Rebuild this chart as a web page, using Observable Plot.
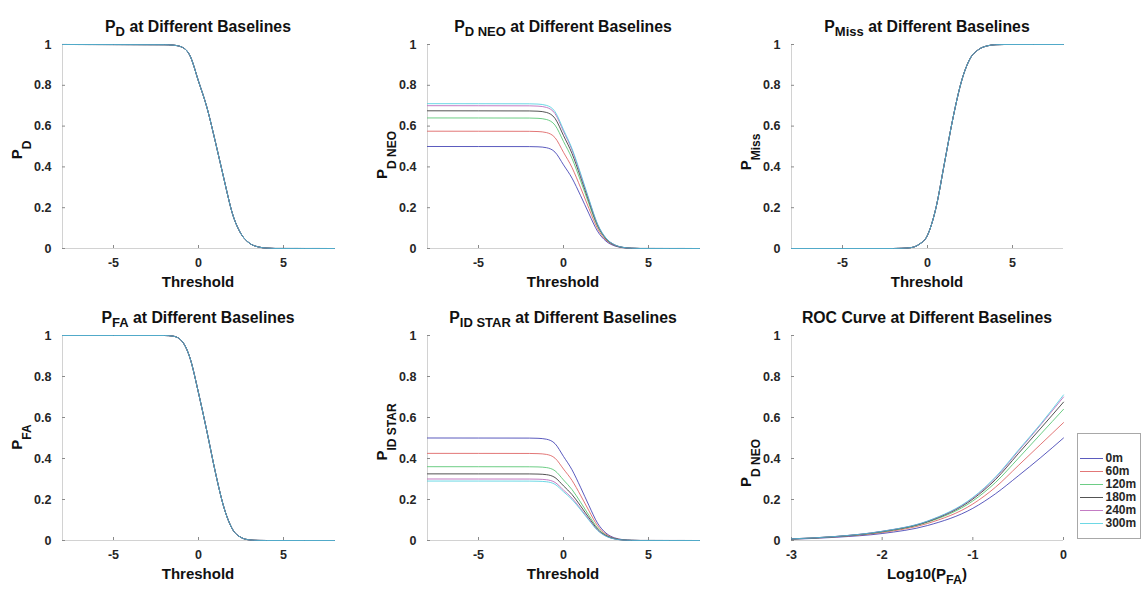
<!DOCTYPE html>
<html><head><meta charset="utf-8">
<script src="https://cdn.jsdelivr.net/npm/d3@7"></script>
<script src="https://cdn.jsdelivr.net/npm/@observablehq/plot@0.6"></script>
<style>
html,body{margin:0;padding:0;background:#fff;}
#fig{position:relative;width:1143px;height:593px;overflow:hidden;}
#fig svg{position:absolute;}
</style></head><body><div id="fig"></div>
<script>
// ---------------- data ----------------
const baselines = ["0m","60m","120m","180m","240m","300m"];
const lineColors = ["#2424a8","#d84a4a","#3cbc5c","#1a1a1a","#b050b0","#3ccbdc"];
const yTicks = [0, 0.2, 0.4, 0.6, 0.8, 1];
const thrTicks = [-5, 0, 5];
const rocTicks = [-3, -2, -1, 0];

const threshold = [-8, -2, -1.5, -1, -0.5, 0, 0.5, 1, 1.5, 2, 2.5, 3, 3.5, 4, 4.5, 8];

const pD    = [1, 0.999, 0.997, 0.988, 0.945, 0.82, 0.69, 0.52, 0.34, 0.17, 0.072, 0.026, 0.008, 0.002, 0.0002, 0];
const pMiss = [0, 0, 0.001, 0.004, 0.02, 0.065, 0.2, 0.42, 0.64, 0.82, 0.93, 0.975, 0.993, 0.999, 1, 1];
const pFA   = [1, 1, 0.997, 0.975, 0.89, 0.72, 0.53, 0.33, 0.16, 0.055, 0.015, 0.003, 0.0005, 0, 0, 0];

const pDNEO_0m   = [0.5, 0.4995, 0.4985, 0.494, 0.4725, 0.41, 0.345, 0.26, 0.17, 0.085, 0.036, 0.013, 0.004, 0.001, 0.0001, 0];
const pDNEO_60m  = [0.575, 0.5744, 0.5733, 0.5681, 0.5434, 0.4715, 0.3968, 0.299, 0.1955, 0.0978, 0.0414, 0.015, 0.0046, 0.0012, 0.0001, 0];
const pDNEO_120m = [0.64, 0.6394, 0.6381, 0.6323, 0.6048, 0.5248, 0.4416, 0.3328, 0.2176, 0.1088, 0.0461, 0.0166, 0.0051, 0.0013, 0.0001, 0];
const pDNEO_180m = [0.675, 0.6743, 0.673, 0.6669, 0.6379, 0.5535, 0.4658, 0.351, 0.2295, 0.1148, 0.0486, 0.0176, 0.0054, 0.0014, 0.0001, 0];
const pDNEO_240m = [0.70, 0.6993, 0.6979, 0.6916, 0.6615, 0.574, 0.483, 0.364, 0.238, 0.119, 0.0504, 0.0182, 0.0056, 0.0014, 0.0001, 0];
const pDNEO_300m = [0.71, 0.7093, 0.7079, 0.7015, 0.671, 0.5822, 0.4899, 0.3692, 0.2414, 0.1207, 0.0511, 0.0185, 0.0057, 0.0014, 0.0001, 0];

const pIDSTAR_0m   = [0.5, 0.4995, 0.4985, 0.494, 0.4725, 0.41, 0.345, 0.26, 0.17, 0.085, 0.036, 0.013, 0.004, 0.001, 0.0001, 0];
const pIDSTAR_60m  = [0.425, 0.4246, 0.4237, 0.4199, 0.4016, 0.3485, 0.2933, 0.221, 0.1445, 0.0723, 0.0306, 0.0111, 0.0034, 0.0009, 0.0001, 0];
const pIDSTAR_120m = [0.36, 0.3596, 0.3589, 0.3557, 0.3402, 0.2952, 0.2484, 0.1872, 0.1224, 0.0612, 0.0259, 0.0094, 0.0029, 0.0007, 0.0001, 0];
const pIDSTAR_180m = [0.325, 0.3247, 0.324, 0.3211, 0.3071, 0.2665, 0.2243, 0.169, 0.1105, 0.0553, 0.0234, 0.0085, 0.0026, 0.0007, 0.0001, 0];
const pIDSTAR_240m = [0.30, 0.2997, 0.2991, 0.2964, 0.2835, 0.246, 0.207, 0.156, 0.102, 0.051, 0.0216, 0.0078, 0.0024, 0.0006, 0.0001, 0];
const pIDSTAR_300m = [0.29, 0.2897, 0.2891, 0.2865, 0.2741, 0.2378, 0.2001, 0.1508, 0.0986, 0.0493, 0.0209, 0.0075, 0.0023, 0.0006, 0.0001, 0];

const logPFA = [-3, -2.5, -2, -1.5, -1, -0.75, -0.5, -0.25, 0];
const roc_0m   = [0.006, 0.016, 0.034, 0.073, 0.157, 0.228, 0.315, 0.405, 0.50];
const roc_60m  = [0.007, 0.018, 0.039, 0.083, 0.178, 0.26, 0.365, 0.47, 0.575];
const roc_120m = [0.007, 0.019, 0.042, 0.089, 0.193, 0.283, 0.40, 0.52, 0.64];
const roc_180m = [0.008, 0.02, 0.044, 0.092, 0.202, 0.297, 0.423, 0.548, 0.675];
const roc_240m = [0.008, 0.02, 0.045, 0.094, 0.207, 0.305, 0.435, 0.565, 0.70];
const roc_300m = [0.008, 0.02, 0.045, 0.095, 0.21, 0.31, 0.44, 0.57, 0.71];

// ---------------- helpers ----------------
const FONT = '"Liberation Sans", Arial, Helvetica, sans-serif';
const TXT = "#262626";
const fig = document.getElementById("fig");

function tidy(xs, seriesList) {
  const rows = [];
  seriesList.forEach((ys, i) => ys.forEach((y, j) => rows.push({baseline: baselines[i], x: xs[j], y})));
  return rows;
}
function richText(sel, parts, size, subSize, shift) {
  let down = 0;
  parts.forEach(p => {
    const t = sel.append("tspan").text(p[0]);
    if (p[1] === "sub") { t.attr("font-size", subSize).attr("dy", shift - down); down = shift; }
    else { t.attr("font-size", size).attr("dy", -down); down = 0; }
  });
}

function panel(o) {
  const fw = 272, fh = o.fh, mL = 62, mT = 44, mR = 14, mB = 56;
  const [x0, x1] = o.xDomain;
  const ux = (x1 - x0) * 3 / fw, uy = 3 / fh;
  const fmt = d => String(d);
  const svg = Plot.plot({
    width: fw + mL + mR, height: fh + mT + mB,
    marginLeft: mL, marginTop: mT, marginRight: mR, marginBottom: mB,
    style: {background: "none", fontFamily: FONT, fontSize: "12.5px", fontWeight: "bold", color: TXT, overflow: "visible"},
    x: {domain: o.xDomain},
    y: {domain: [0, 1]},
    color: {domain: baselines, range: lineColors},
    marks: [
      Plot.ruleY([0], {stroke: "#d2d2d2"}),
      Plot.ruleX([x0], {stroke: "#d2d2d2"}),
      Plot.ruleX(o.xTicks, {x: d => d, y1: 0, y2: uy, stroke: "#8a8a8a"}),
      Plot.ruleY(yTicks, {y: d => d, x1: x0, x2: x0 + ux, stroke: "#8a8a8a"}),
      Plot.axisX({ticks: o.xTicks, tickSize: 0, tickPadding: 10, label: null, tickFormat: fmt, fill: TXT}),
      Plot.axisY({ticks: yTicks, tickSize: 0, tickPadding: 11, label: null, tickFormat: fmt, fill: TXT}),
      Plot.line(o.rows, {x: "x", y: "y", z: "baseline", stroke: "baseline", strokeWidth: 0.75, curve: "monotone-x"})
    ]
  });
  svg.style.left = (o.left - mL) + "px";
  svg.style.top = (o.top - mT) + "px";
  const s = d3.select(svg);
  const common = t => t.attr("font-family", FONT).attr("font-weight", "bold").attr("fill", "#111");
  const tt = s.append("text").attr("x", mL + fw / 2).attr("y", mT - 12).attr("text-anchor", "middle");
  common(tt); richText(tt, o.title, "15.8px", "13px", 3.5);
  const xl = s.append("text").attr("x", mL + fw / 2).attr("y", mT + fh + 39).attr("text-anchor", "middle");
  common(xl); richText(xl, o.xlab, "15px", "12.5px", 5);
  const yl = s.append("text").attr("text-anchor", "middle")
    .attr("transform", `translate(${mL - 40},${mT + o.ylabC}) rotate(-90)`);
  common(yl); richText(yl, o.ylab, "15px", "12px", 9);
  fig.appendChild(svg);
}

const colL = [62, 427, 791];
const rowT = [44, 335];
const same = arr => baselines.map(() => arr);

panel({left: colL[0], top: rowT[0], fh: 204, xDomain: [-8, 8], xTicks: thrTicks,
  rows: tidy(threshold, same(pD)), title: [["P"], ["D", "sub"], [" at Different Baselines"]],
  xlab: [["Threshold"]], ylab: [["P"], ["D", "sub"]], ylabC: 106});
panel({left: colL[1], top: rowT[0], fh: 204, xDomain: [-8, 8], xTicks: thrTicks,
  rows: tidy(threshold, [pDNEO_0m, pDNEO_60m, pDNEO_120m, pDNEO_180m, pDNEO_240m, pDNEO_300m]),
  title: [["P"], ["D NEO", "sub"], [" at Different Baselines"]],
  xlab: [["Threshold"]], ylab: [["P"], ["D NEO", "sub"]], ylabC: 111});
panel({left: colL[2], top: rowT[0], fh: 204, xDomain: [-8, 8], xTicks: thrTicks,
  rows: tidy(threshold, same(pMiss)), title: [["P"], ["Miss", "sub"], [" at Different Baselines"]],
  xlab: [["Threshold"]], ylab: [["P"], ["Miss", "sub"]], ylabC: 108});
panel({left: colL[0], top: rowT[1], fh: 205, xDomain: [-8, 8], xTicks: thrTicks,
  rows: tidy(threshold, same(pFA)), title: [["P"], ["FA", "sub"], [" at Different Baselines"]],
  xlab: [["Threshold"]], ylab: [["P"], ["FA", "sub"]], ylabC: 102});
panel({left: colL[1], top: rowT[1], fh: 205, xDomain: [-8, 8], xTicks: thrTicks,
  rows: tidy(threshold, [pIDSTAR_0m, pIDSTAR_60m, pIDSTAR_120m, pIDSTAR_180m, pIDSTAR_240m, pIDSTAR_300m]),
  title: [["P"], ["ID STAR", "sub"], [" at Different Baselines"]],
  xlab: [["Threshold"]], ylab: [["P"], ["ID STAR", "sub"]], ylabC: 97});
panel({left: colL[2], top: rowT[1], fh: 205, xDomain: [-3, 0], xTicks: rocTicks,
  rows: tidy(logPFA, [roc_0m, roc_60m, roc_120m, roc_180m, roc_240m, roc_300m]),
  title: [["ROC Curve at Different Baselines"]],
  xlab: [["Log10(P"], ["FA", "sub"], [")"]], ylab: [["P"], ["D NEO", "sub"]], ylabC: 128});

// legend
const leg = Plot.plot({
  width: 63, height: 105, margin: 0,
  style: {background: "#fff", fontFamily: FONT, fontSize: "12px", fontWeight: "bold", color: TXT, overflow: "visible"},
  x: {type: "identity", axis: null},
  y: {type: "point", domain: baselines, range: [18, 96], axis: null},
  color: {domain: baselines, range: lineColors},
  marks: [
    Plot.frame({stroke: "#a8a8a8"}),
    Plot.ruleY(baselines, {y: d => d, x1: 3, x2: 26, stroke: d => d, strokeWidth: 0.75}),
    Plot.text(baselines, {y: d => d, x: 28, text: d => d, textAnchor: "start", fill: TXT})
  ]
});
leg.style.left = "1077px";
leg.style.top = "433px";
fig.appendChild(leg);
</script></body></html>
